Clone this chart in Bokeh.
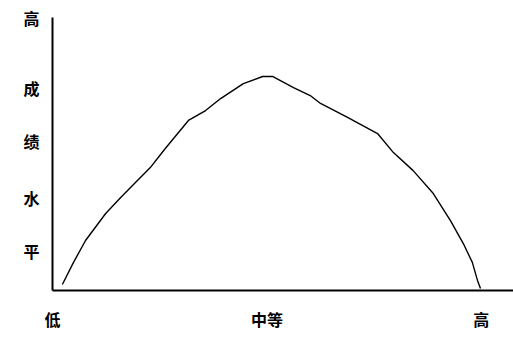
from bokeh.plotting import figure
from bokeh.models import Range1d, FixedTicker
from bokeh.embed import file_html
from bokeh.resources import INLINE

# Curve: arousal level (x) vs performance level (y), peak scaled to 100
arousal = [2.3, 4.9, 7.7, 12.4, 15.9, 22.8, 26.3, 31.7, 35.7, 39.2, 44.5, 49.0,
           51.3, 56.2, 60.1, 62.5, 68.8, 75.8, 79.5, 84.1, 88.8, 92.8, 95.8,
           97.9, 99.1, 99.8]
performance = [2.8, 13.1, 23.3, 35.9, 43.4, 57.3, 66.2, 79.3, 83.9, 89.5, 96.5,
               99.8, 99.8, 94.6, 90.9, 87.2, 80.7, 73.2, 64.3, 55.9, 45.2, 32.6,
               21.9, 13.1, 4.7, 0.9]

x_ticks = [0, 50, 100]
x_tick_labels = ["低", "中等", "高"]
y_ticks = [18.6, 42.9, 69.5, 94.6, 127.3]
y_tick_labels = ["平", "水", "绩", "成", "高"]

FONT = "Noto Sans CJK SC"

p = figure(width=513, height=337, output_backend="svg", toolbar_location=None,
           x_range=Range1d(0, 107.5), y_range=Range1d(0, 127.3),
           min_border_left=52, min_border_right=0, min_border_top=17,
           min_border_bottom=47)
p.outline_line_color = None
p.xgrid.visible = False
p.ygrid.visible = False
p.background_fill_color = "white"
p.border_fill_color = "white"

p.line(arousal, performance, line_color="black", line_width=1.4)

xa = p.xaxis[0]
xa.ticker = FixedTicker(ticks=x_ticks)
xa.major_label_overrides = {t: l for t, l in zip(x_ticks, x_tick_labels)}
xa.major_tick_line_color = None
xa.minor_tick_line_color = None
xa.axis_line_width = 2
xa.axis_line_color = "black"
xa.major_label_standoff = 10
xa.major_label_text_font = FONT
xa.major_label_text_font_style = "bold"
xa.major_label_text_font_size = "16px"
xa.major_label_text_color = "black"

ya = p.yaxis[0]
ya.ticker = FixedTicker(ticks=y_ticks)
ya.major_label_overrides = {t: l for t, l in zip(y_ticks, y_tick_labels)}
ya.major_tick_line_color = None
ya.minor_tick_line_color = None
ya.axis_line_width = 2
ya.axis_line_color = "black"
ya.major_label_standoff = 7
ya.major_label_text_font = FONT
ya.major_label_text_font_style = "bold"
ya.major_label_text_font_size = "16px"
ya.major_label_text_color = "black"

open("out.html", "w").write(file_html(p, INLINE))
